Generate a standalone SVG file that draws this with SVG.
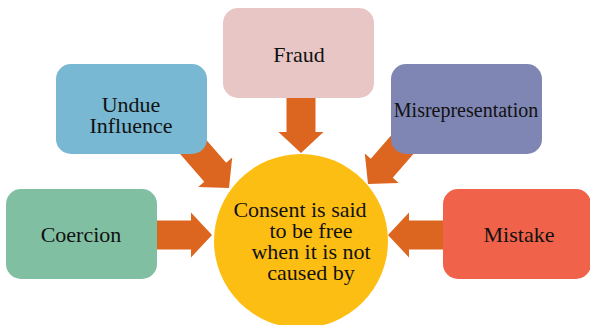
<svg xmlns="http://www.w3.org/2000/svg" width="590" height="325" viewBox="0 0 590 325">
<style>
.t{font-family:"Liberation Serif","Times New Roman",serif;font-size:22px;fill:#111;text-anchor:middle}
.arr{fill:#DC6620}
</style>
<defs>
<polygon id="ar" points="-56,-14.5 -21,-14.5 -21,-22.5 0,0 -21,22.5 -21,14.5 -56,14.5"/>
<polygon id="ard" points="-75,-14.5 -21,-14.5 -21,-22.5 0,0 -21,22.5 -21,14.5 -75,14.5"/>
</defs>
<rect width="590" height="325" fill="#fff"/>
<g id="connectors" class="arr">
<use href="#ar" transform="translate(301,153) rotate(90)"/>
<use href="#ar" transform="translate(212,235)"/>
<use href="#ar" transform="translate(388,235) rotate(180)"/>
<use href="#ard" transform="translate(229,188) rotate(49)"/>
<use href="#ard" transform="translate(368,184) rotate(131)"/>
</g>
<g id="fraud"><rect x="223" y="8" width="151" height="90" rx="15" fill="#E8C6C5"/><text class="t" x="299" y="62">Fraud</text></g>
<g id="undue"><rect x="56" y="64" width="151" height="90" rx="15" fill="#78B8D2"/><text class="t" x="131" y="112">Undue</text><text class="t" x="131" y="133">Influence</text></g>
<g id="misrep"><rect x="391" y="64" width="151" height="90" rx="15" fill="#7F86B4"/><text class="t" x="466" y="117" style="font-size:20px">Misrepresentation</text></g>
<g id="coercion"><rect x="6" y="189" width="151" height="90" rx="15" fill="#80BFA2"/><text class="t" x="81" y="242">Coercion</text></g>
<g id="mistake"><rect x="443" y="189" width="148" height="90" rx="15" fill="#F0634A"/><text class="t" x="519" y="242">Mistake</text></g>
<g id="center"><ellipse cx="301" cy="241" rx="87" ry="87" fill="#FDBE14"/>
<text class="t" x="300" y="217">Consent is said</text>
<text class="t" x="311" y="238">to be free</text>
<text class="t" x="311" y="259">when it is not</text>
<text class="t" x="311" y="280">caused by</text></g>
</svg>
